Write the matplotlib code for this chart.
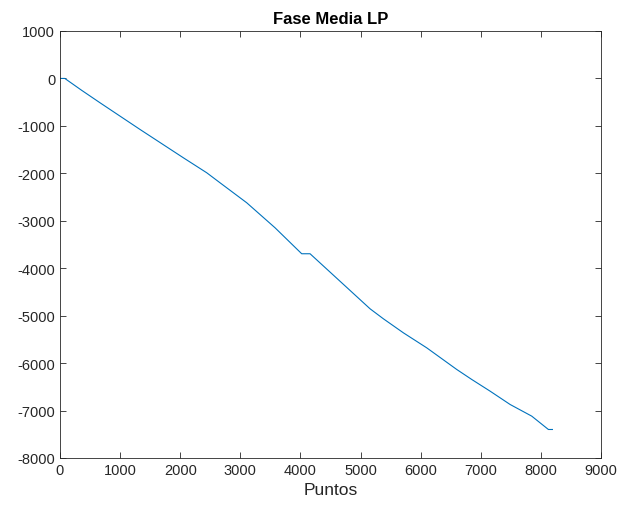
import matplotlib
matplotlib.use("Agg")
import matplotlib.pyplot as plt

puntos = [0, 80, 360, 666, 1331, 2052, 2441, 2662, 3106, 3577, 4021, 4160,
          5158, 5380, 5713, 6101, 6600, 6850, 7155, 7488, 7848, 8125, 8192]
fase = [0, 0, -250, -513, -1075, -1672, -1988, -2199, -2620, -3147, -3695, -3695,
        -4855, -5066, -5362, -5678, -6134, -6345, -6591, -6872, -7118, -7399, -7399]
xticks = [0, 1000, 2000, 3000, 4000, 5000, 6000, 7000, 8000, 9000]
yticks = [-8000, -7000, -6000, -5000, -4000, -3000, -2000, -1000, 0, 1000]

plt.rcParams['font.family'] = ['Liberation Sans', 'DejaVu Sans']
plt.rcParams['axes.unicode_minus'] = False
fig = plt.figure(figsize=(6.19, 5.06), dpi=100)
ax = fig.add_axes([60/619, 47/506, 541/619, 427/506])
ax.plot(puntos, fase, color='#0072BD', linewidth=0.8)
ax.set_xlim(0, 9000)
ax.set_ylim(-8000, 1000)
ax.set_xticks(xticks)
ax.set_yticks(yticks)
ax.tick_params(direction='in', top=True, right=True, labelsize=10.5, colors='#262626', length=4, width=0.6)
for s in ax.spines.values():
    s.set_color('#262626')
    s.set_linewidth(0.6)
ax.set_xlabel('Puntos', fontsize=12.5, color='#262626', labelpad=4)
ax.set_title('Fase Media LP', fontsize=12, fontweight='bold', pad=6)
fig.savefig('out.png', dpi=100)
